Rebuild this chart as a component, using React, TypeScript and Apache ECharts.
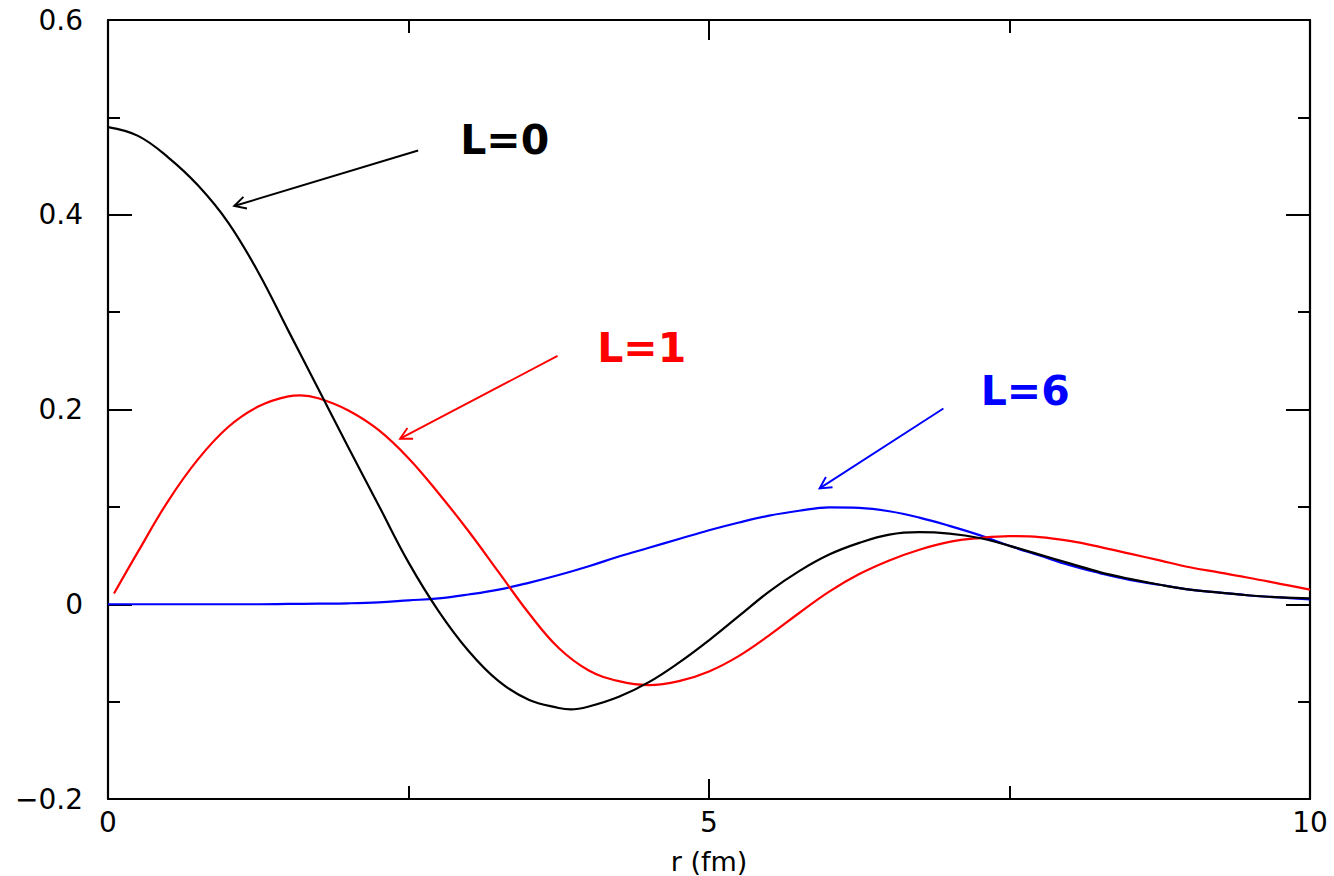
import React, { useEffect, useRef } from "react";
import * as echarts from "echarts";

// r samples (fm) for each curve
const rBlack = [
  0, 0.25, 0.5, 0.75, 1, 1.25, 1.5, 1.75, 2, 2.25, 2.5, 2.75, 3, 3.25, 3.5, 3.75, 3.85, 4, 4.25, 4.5, 4.75,
  5, 5.25, 5.5, 5.75, 6, 6.25, 6.5, 6.75, 7, 7.25, 7.5, 7.75, 8, 8.25, 8.5, 8.75, 9, 9.25, 9.5, 9.75, 10,
];
const rRed = [
  0.05, 0.25, 0.5, 0.75, 1, 1.25, 1.5, 1.6, 1.75, 2, 2.25, 2.5, 2.75, 3, 3.25, 3.5, 3.75, 4, 4.25, 4.5, 4.75,
  5, 5.25, 5.5, 5.75, 6, 6.25, 6.5, 6.75, 7, 7.25, 7.5, 7.75, 8, 8.25, 8.5, 8.75, 9, 9.25, 9.5, 9.75, 10,
];
const rBlue = [
  0, 0.25, 0.5, 0.75, 1, 1.25, 1.5, 1.75, 2, 2.25, 2.5, 2.75, 3, 3.25, 3.5, 3.75, 4, 4.25, 4.5, 4.75,
  5, 5.25, 5.5, 5.75, 6, 6.25, 6.5, 6.75, 7, 7.25, 7.5, 7.75, 8, 8.25, 8.5, 8.75, 9, 9.25, 9.5, 9.75, 10,
];

const waveL0 = [
  0.49, 0.481, 0.459, 0.43, 0.392, 0.341, 0.281, 0.221, 0.161, 0.102, 0.043, -0.007, -0.048, -0.079,
  -0.098, -0.1065, -0.108, -0.105, -0.095, -0.08, -0.06, -0.037, -0.012, 0.013, 0.034, 0.051, 0.063, 0.0715,
  0.074, 0.0725, 0.068, 0.06, 0.051, 0.042, 0.033, 0.026, 0.02, 0.015, 0.012, 0.009, 0.007, 0.006,
];
const waveL1 = [
  0.011, 0.054, 0.106, 0.149, 0.182, 0.203, 0.2135, 0.2145, 0.2115, 0.199, 0.179, 0.15, 0.114, 0.075, 0.033,
  -0.009, -0.045, -0.068, -0.079, -0.083, -0.079, -0.069, -0.053, -0.032, -0.009, 0.013, 0.031, 0.045,
  0.056, 0.064, 0.068, 0.07, 0.069, 0.065, 0.059, 0.052, 0.045, 0.038, 0.0325, 0.027, 0.021, 0.015,
];
const waveL6 = [
  0, 0, 0, 0, 0, 0, 0.0003, 0.0006, 0.001, 0.002, 0.004, 0.006, 0.01, 0.015, 0.022, 0.03, 0.039, 0.049,
  0.058, 0.067, 0.076, 0.084, 0.091, 0.096, 0.0995, 0.099, 0.0955, 0.089, 0.0805, 0.071, 0.06, 0.05,
  0.04, 0.032, 0.025, 0.02, 0.015, 0.012, 0.009, 0.007, 0.005,
];

const seriesNames = ["L=0", "L=1", "L=6"];
const seriesColors = ["#000000", "#ff0000", "#0000ff"];

// annotations (data coordinates)
const arrowFrom = [
  [2.58, 0.466],
  [3.74, 0.255],
  [6.95, 0.201],
];
const arrowTo = [
  [1.05, 0.409],
  [2.43, 0.17],
  [5.92, 0.119],
];
const labelAt = [
  [2.93, 0.477],
  [4.07, 0.263],
  [7.26, 0.219],
];

const xTitle = "r (fm)";

function pairs(xs: number[], ys: number[]) {
  return xs.map((x, i) => [x, ys[i]]);
}

export default function App() {
  const ref = useRef<HTMLDivElement>(null);

  useEffect(() => {
    if (!ref.current) return;
    const chart = echarts.init(ref.current, null, { renderer: "svg" });
    const font = "DejaVu Sans";
    const axisLine = { show: true, onZero: false, lineStyle: { color: "#000", width: 2.2 } };

    const xBase = {
      type: "value",
      min: 0,
      max: 10,
      interval: 5,
      axisLine,
      splitLine: { show: false },
      axisTick: { show: true, inside: true, length: 20, lineStyle: { color: "#000", width: 2 } },
      minorTick: { show: true, splitNumber: 2, length: 13, lineStyle: { color: "#000", width: 2 } },
      minorSplitLine: { show: false },
    };
    const yBase = {
      type: "value",
      min: -0.2,
      max: 0.6,
      interval: 0.2,
      axisLine,
      splitLine: { show: false },
      axisTick: { show: true, inside: true, length: 24, lineStyle: { color: "#000", width: 2 } },
      minorTick: { show: true, splitNumber: 2, length: 12, lineStyle: { color: "#000", width: 2 } },
      minorSplitLine: { show: false },
    };

    chart.setOption({
      animation: false,
      backgroundColor: "#ffffff",
      grid: { left: 108, right: 24, top: 20, bottom: 77, outerBoundsMode: "none", containLabel: false },
      xAxis: [
        {
          ...xBase,
          position: "bottom",
          name: xTitle,
          nameLocation: "middle",
          nameGap: 49,
          nameTextStyle: { fontFamily: font, fontSize: 27, color: "#000" },
          axisLabel: {
            show: true,
            margin: 9,
            fontFamily: font,
            fontSize: 28,
            color: "#000",
            formatter: (v: number) => String(v),
          },
        },
        { ...xBase, position: "top", axisLabel: { show: false } },
      ],
      yAxis: [
        {
          ...yBase,
          position: "left",
          axisLabel: {
            show: true,
            margin: 25,
            fontFamily: font,
            fontSize: 28,
            color: "#000",
            formatter: (v: number) => {
              if (Math.abs(v) < 1e-9) return "0";
              return (v < 0 ? "\u2212" : "") + Math.abs(v).toFixed(1);
            },
          },
        },
        { ...yBase, position: "right", axisLabel: { show: false } },
      ],
      series: [
        { data: pairs(rBlack, waveL0) },
        { data: pairs(rRed, waveL1) },
        { data: pairs(rBlue, waveL6) },
      ].map((s, i) => ({
        type: "line",
        name: seriesNames[i],
        data: s.data,
        xAxisIndex: 0,
        yAxisIndex: 0,
        smooth: 0.4,
        showSymbol: false,
        symbol: "none",
        lineStyle: { color: seriesColors[i], width: 2.2 },
        z: 3 - i,
      })),
    });

    const gfx: any[] = [];
    for (let i = 0; i < seriesNames.length; i++) {
      const p0 = chart.convertToPixel({ xAxisIndex: 0, yAxisIndex: 0 }, arrowFrom[i]) as number[];
      const p1 = chart.convertToPixel({ xAxisIndex: 0, yAxisIndex: 0 }, arrowTo[i]) as number[];
      const pl = chart.convertToPixel({ xAxisIndex: 0, yAxisIndex: 0 }, labelAt[i]) as number[];
      const dx = p1[0] - p0[0];
      const dy = p1[1] - p0[1];
      const len = Math.sqrt(dx * dx + dy * dy);
      const ux = dx / len;
      const uy = dy / len;
      const h = 13;
      const a = (28 * Math.PI) / 180;
      const rot = (ang: number) => [
        p1[0] - h * (ux * Math.cos(ang) - uy * Math.sin(ang)),
        p1[1] - h * (ux * Math.sin(ang) + uy * Math.cos(ang)),
      ];
      gfx.push({
        type: "line",
        shape: { x1: p0[0], y1: p0[1], x2: p1[0], y2: p1[1] },
        style: { stroke: seriesColors[i], lineWidth: 1.9 },
        z: 10,
      });
      gfx.push({
        type: "polyline",
        shape: { points: [rot(a), [p1[0], p1[1]], rot(-a)] },
        style: { stroke: seriesColors[i], lineWidth: 1.9, fill: null },
        z: 10,
      });
      gfx.push({
        type: "text",
        x: pl[0],
        y: pl[1],
        style: {
          text: seriesNames[i],
          fill: seriesColors[i],
          font: `bold 41px "${font}"`,
          align: "left",
          verticalAlign: "middle",
        },
        z: 10,
      });
    }
    chart.setOption({ graphic: gfx });

    return () => chart.dispose();
  }, []);

  return (
    <div
      ref={ref}
      style={{ position: "absolute", left: 0, top: 0, width: 1334, height: 876, background: "#fff" }}
    />
  );
}
